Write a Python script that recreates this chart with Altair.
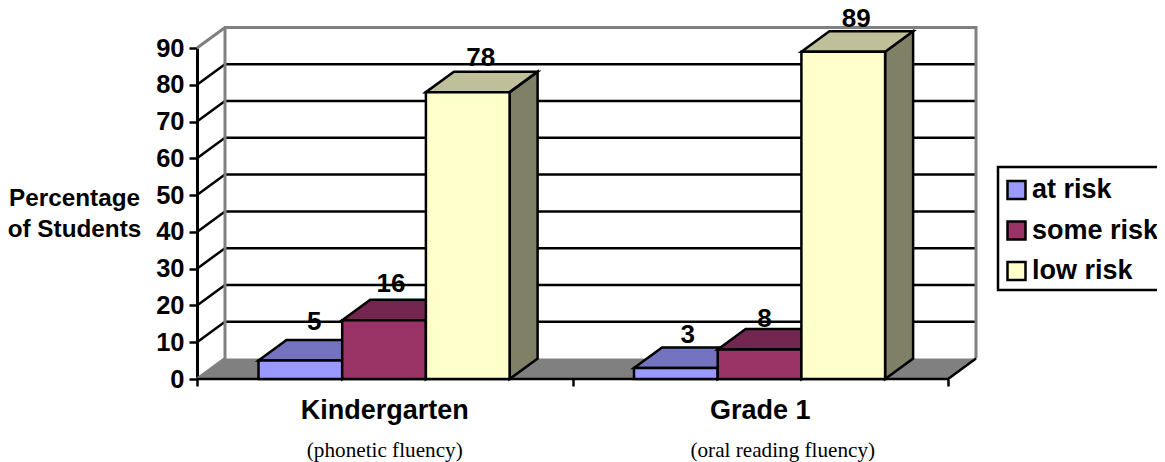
import altair as alt
import pandas as pd

groups = ["Kindergarten", "Grade 1"]
subtitles = ["(phonetic fluency)", "(oral reading fluency)"]
series = ["at risk", "some risk", "low risk"]
values = {"at risk": [5, 3], "some risk": [16, 8], "low risk": [78, 89]}
front = ["#9999ff", "#993366", "#ffffcc"]
top = ["#7373bf", "#732650", "#bfbf99"]
side = ["#4d4d80", "#4d1a33", "#808066"]
ticks = list(range(0, 100, 10))
# label nudges in pixels (x right, y up from the back top edge of each bar)
label_dx = [[14, 7, 13], [12, 5, 13]]
label_dy = [[18, 16, 14], [12, 10, 12.5]]
subtitle_x = [0.5, 1.56]

PX_X = 375.5          # px per group
PX_Y = 331 / 90       # px per percentage point
DX = 28 / PX_X
DY = 20.5 / PX_Y
BAR0 = 61.5 / PX_X
BARW = 83.7 / PX_X
XMAX = 2 + DX
LW = 2.5

xs = alt.Scale(domain=[0, XMAX], nice=False, zero=False)
ys = alt.Scale(domain=[0, 90], nice=False, zero=False)
xaxis = alt.Axis(
    values=[0, 1, 2], labels=False, domain=False, grid=False,
    tickColor="black", tickWidth=LW, tickSize=7, title=None)
yaxis = alt.Axis(
    title=["Percentage", "of Students"],
    values=ticks, grid=False, domainColor="black", domainWidth=LW + 0.5,
    tickColor="black", tickWidth=LW, tickSize=8, labelPadding=5,
    labelFont="Liberation Sans", labelFontWeight="bold", labelFontSize=25.5, labelColor="black",
    titleFont="Liberation Sans", titleFontWeight="bold", titleFontSize=24.3, titleColor="black",
    titleAngle=0, titleAlign="center", titleBaseline="middle", titleLineHeight=31,
    titleX=-123, titleY=150)
X = lambda f="x": alt.X(f"{f}:Q", scale=xs, axis=xaxis)
Y = lambda f="y": alt.Y(f"{f}:Q", scale=ys, axis=yaxis, stack=None)


def poly(rows):
    return pd.DataFrame(rows)


layers = []

# floor
floor = poly([
    {"x": 0, "y": 0, "y2": 0},
    {"x": DX, "y": DY, "y2": 0},
    {"x": 2, "y": DY, "y2": 0},
    {"x": XMAX, "y": DY, "y2": DY},
])
layers.append(alt.Chart(floor).mark_area(color="#808080").encode(x=X(), y=Y(), y2="y2:Q"))

# grid lines on both walls
grid_rows = []
for t in ticks[1:-1]:
    grid_rows += [{"t": t, "x": 0, "y": t}, {"t": t, "x": DX, "y": t + DY}, {"t": t, "x": XMAX, "y": t + DY}]
layers.append(alt.Chart(poly(grid_rows)).mark_line(color="black", strokeWidth=LW).encode(
    x=X(), y=Y(), detail="t:N", order="x:Q"))

# wall frame
frame = poly([
    {"p": 0, "x": 0, "y": 90},
    {"p": 1, "x": DX, "y": 90 + DY},
    {"p": 2, "x": XMAX, "y": 90 + DY},
    {"p": 3, "x": XMAX, "y": DY},
])
layers.append(alt.Chart(frame).mark_line(color="#808080", strokeWidth=LW + 0.5).encode(
    x=X(), y=Y(), order="p:Q"))
wall = poly([{"p": 0, "x": DX, "y": 90 + DY}, {"p": 1, "x": DX, "y": DY}, {"p": 2, "x": 0, "y": 0}])
layers.append(alt.Chart(wall).mark_line(color="#808080", strokeWidth=LW + 0.5).encode(x=X(), y=Y(), order="p:Q"))

# front floor edge
edge = poly([{"p": 0, "x": 0, "y": 0}, {"p": 1, "x": 2, "y": 0}, {"p": 2, "x": XMAX, "y": DY}])
layers.append(alt.Chart(edge).mark_line(color="black", strokeWidth=LW).encode(x=X(), y=Y(), order="p:Q"))

# bars, series by series so that later bars overlap earlier ones
color_scale = alt.Scale(domain=series, range=front)
legend = alt.Legend(
    title=None, orient="none", legendX=806, legendY=128.5,
    padding=0, rowPadding=11.5,
    symbolType="square", symbolSize=324, symbolStrokeColor="black", symbolStrokeWidth=2.5,
    symbolOpacity=1, labelOffset=2,
    labelFont="Liberation Sans", labelFontWeight="bold", labelFontSize=27, labelColor="black",
)
for s, name in enumerate(series):
    top_rows, side_rows, front_rows = [], [], []
    for g in range(len(groups)):
        v = values[name][g]
        x0 = g + BAR0 + s * BARW
        x1 = x0 + BARW
        front_rows.append({"x": x0, "x2": x1, "y": v, "y2": 0, "series": name})
        top_rows += [
            {"g": g, "x": x0, "y": v, "y2": v},
            {"g": g, "x": x0 + DX, "y": v + DY, "y2": v},
            {"g": g, "x": x1, "y": v + DY, "y2": v},
            {"g": g, "x": x1 + DX, "y": v + DY, "y2": v + DY},
        ]
        side_rows += [
            {"g": g, "x": x1, "y": v, "y2": 0},
            {"g": g, "x": x1 + DX, "y": v + DY, "y2": DY},
        ]
    layers.append(alt.Chart(poly(side_rows)).mark_area(color=side[s], stroke="black", strokeWidth=LW).encode(
        x=X(), y=Y(), y2="y2:Q", detail="g:N"))
    layers.append(alt.Chart(poly(top_rows)).mark_area(color=top[s], stroke="black", strokeWidth=LW).encode(
        x=X(), y=Y(), y2="y2:Q", detail="g:N"))
    layers.append(alt.Chart(poly(front_rows)).mark_rect(stroke="black", strokeWidth=LW, opacity=1).encode(
        x=X(), x2="x2:Q", y=Y(), y2="y2:Q",
        color=alt.Color("series:N", scale=color_scale, legend=legend, sort=series)))

# value labels
label_rows = []
for g in range(len(groups)):
    for s, name in enumerate(series):
        v = values[name][g]
        label_rows.append({
            "x": g + BAR0 + (s + 0.5) * BARW + label_dx[g][s] / PX_X,
            "y": v + DY + label_dy[g][s] / PX_Y,
            "label": str(v),
        })
layers.append(alt.Chart(poly(label_rows)).mark_text(
    font="Liberation Sans", fontWeight="bold", fontSize=26, color="black", baseline="middle").encode(
    x=X(), y=Y(), text="label:N"))

# category labels
cat = poly([{"x": g + 0.5, "label": n} for g, n in enumerate(groups)])
layers.append(alt.Chart(cat).mark_text(
    font="Liberation Sans", fontWeight="bold", fontSize=27, color="black", baseline="middle").encode(
    x=X(), y=alt.value(363), text="label:N"))
sub = poly([{"x": x, "label": n} for x, n in zip(subtitle_x, subtitles)])
layers.append(alt.Chart(sub).mark_text(
    font="Liberation Serif", fontSize=21.2, color="black", baseline="middle").encode(
    x=X(), y=alt.value(402.5), text="label:N"))

# legend frame, running off the right edge as in the reference
box = poly([{"k": 0}])
layers.append(alt.Chart(box).mark_rect(fill="white", stroke="black", strokeWidth=LW, fillOpacity=0).encode(
    x=alt.value(801), x2=alt.value(990), y=alt.value(119), y2=alt.value(242)))

chart = alt.layer(*layers).properties(
    width=779, height=331,
    padding={"left": 189, "top": 40, "right": 181, "bottom": 83},
    autosize="none",
    background="white",
).configure_view(stroke=None)

chart.save("out.html", embed_options={"renderer": "svg", "actions": False})
